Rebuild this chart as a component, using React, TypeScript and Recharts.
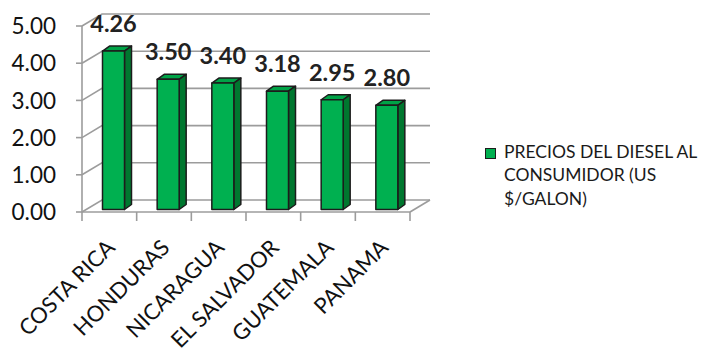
import React from 'react';
import { BarChart, Bar, XAxis, YAxis, CartesianGrid, LabelList, Legend } from 'recharts';

const categories = ['COSTA RICA', 'HONDURAS', 'NICARAGUA', 'EL SALVADOR', 'GUATEMALA', 'PANAMA'];
const prices = [4.26, 3.5, 3.4, 3.18, 2.95, 2.8];
const yTicks = [0, 1, 2, 3, 4, 5];
const seriesName = 'PRECIOS DEL DIESEL AL CONSUMIDOR (US $/GALON)';

const data = categories.map((c, i) => ({ name: c, value: prices[i] }));

const FONT = 'Lato, "Open Sans", sans-serif';
const GRID = '#9c9c9c';
const DX = 20;
const DY = -12;
const SX = 4.5;
const SY = 2.5;
const BDX = 7;
const BDY = -5;
const FRONT = '#00B050';
const SIDE = '#00772F';
const TOP = '#00A347';
const EDGE = '#1c1c1c';

const Bar3D = (p: any) => {
  const { x, y, width: w, height: h } = p;
  if (w == null || h == null) return null;
  const fx = x + SX;
  const fy = y - SY;
  return (
    <g>
      <polygon
        points={`${fx},${fy} ${fx + BDX},${fy + BDY} ${fx + w + BDX},${fy + BDY} ${fx + w},${fy}`}
        fill={TOP}
        stroke={EDGE}
        strokeWidth={1.5}
        strokeLinejoin="round"
      />
      <polygon
        points={`${fx + w},${fy} ${fx + w + BDX},${fy + BDY} ${fx + w + BDX},${fy + h + BDY} ${fx + w},${fy + h}`}
        fill={SIDE}
        stroke={EDGE}
        strokeWidth={1.5}
        strokeLinejoin="round"
      />
      <rect x={fx} y={fy} width={w} height={h} fill={FRONT} stroke={EDGE} strokeWidth={1.5} strokeLinejoin="round" />
    </g>
  );
};

const ValueLabel = (p: any) => {
  const { x, y, width, value } = p;
  return (
    <text
      x={Number(x) + Number(width) / 2 + SX}
      y={Number(y) - SY - 19}
      textAnchor="middle"
      fontFamily={FONT}
      fontWeight={700}
      fontSize={23.5}
      fill="#222"
    >
      {Number(value).toFixed(2)}
    </text>
  );
};

const XTick = (p: any) => {
  const { x, y, payload, index, visibleTicksCount } = p;
  const half = payload && payload.offset ? payload.offset : 0;
  const ax = x + 7;
  const ay = y + 37;
  const last = index === visibleTicksCount - 1;
  return (
    <g>
      <line x1={x - half} y1={y} x2={x - half} y2={y + 9} stroke={GRID} strokeWidth={1.6} />
      {last && <line x1={x + half} y1={y} x2={x + half} y2={y + 9} stroke={GRID} strokeWidth={1.6} />}
      {last && <line x1={x + half} y1={y} x2={x + half + DX} y2={y + DY} stroke={GRID} strokeWidth={1.6} />}
      <text
        x={ax}
        y={ay}
        transform={`rotate(-45 ${ax} ${ay})`}
        textAnchor="end"
        fontFamily={FONT}
        fontSize={22}
        fill="#111"
      >
        {payload.value}
      </text>
    </g>
  );
};

const YTick = (p: any) => {
  const { x, y, payload } = p;
  return (
    <text x={x - 20} y={y} dy="0.36em" textAnchor="end" fontFamily={FONT} fontSize={22.5} fill="#111">
      {Number(payload.value).toFixed(2)}
    </text>
  );
};

const GridLine = (p: any) => {
  const { x1, x2, y1 } = p;
  return (
    <polyline
      key={p.key}
      points={`${x1},${y1} ${x1 + DX},${y1 + DY} ${x2 + DX},${y1 + DY}`}
      fill="none"
      stroke={GRID}
      strokeWidth={1.6}
    />
  );
};

const LegendContent = () => (
  <div style={{ display: 'flex', alignItems: 'flex-start', fontFamily: FONT, fontSize: 17.5, lineHeight: '23.5px', color: '#1a1a1a' }}>
    <span
      style={{
        display: 'inline-block',
        width: 9,
        height: 9,
        background: FRONT,
        border: '1px solid #1c1c1c',
        marginTop: 8.5,
        marginRight: 8,
        flex: 'none',
      }}
    />
    <span style={{ width: 200 }}>{seriesName}</span>
  </div>
);

export default function App() {
  return (
    <div style={{ position: 'absolute', left: 0, top: 0, width: 703, height: 352, background: '#fff' }}>
      <BarChart width={703} height={352} data={data} margin={{ top: 26, right: 293, bottom: 0, left: 0 }}>
        <CartesianGrid vertical={false} horizontal={GridLine as any} />
        <XAxis
          dataKey="name"
          height={140}
          tickSize={0}
          tickMargin={0}
          tickLine={false}
          axisLine={{ stroke: GRID, strokeWidth: 1.6 }}
          tick={<XTick />}
          interval={0}
        />
        <YAxis
          domain={[0, 5]}
          ticks={yTicks}
          width={82}
          tickSize={6}
          tickMargin={0}
          axisLine={{ stroke: GRID, strokeWidth: 1.6 }}
          tickLine={{ stroke: GRID, strokeWidth: 1.6 }}
          tick={<YTick />}
          interval={0}
        />
        <Legend
          layout="vertical"
          align="center"
          verticalAlign="middle"
          wrapperStyle={{ left: 485, top: 139.5, width: 218, height: 'auto' }}
          content={<LegendContent />}
        />
        <Bar dataKey="value" name={seriesName} barSize={22} shape={<Bar3D />} isAnimationActive={false}>
          <LabelList dataKey="value" content={<ValueLabel />} />
        </Bar>
      </BarChart>
    </div>
  );
}
